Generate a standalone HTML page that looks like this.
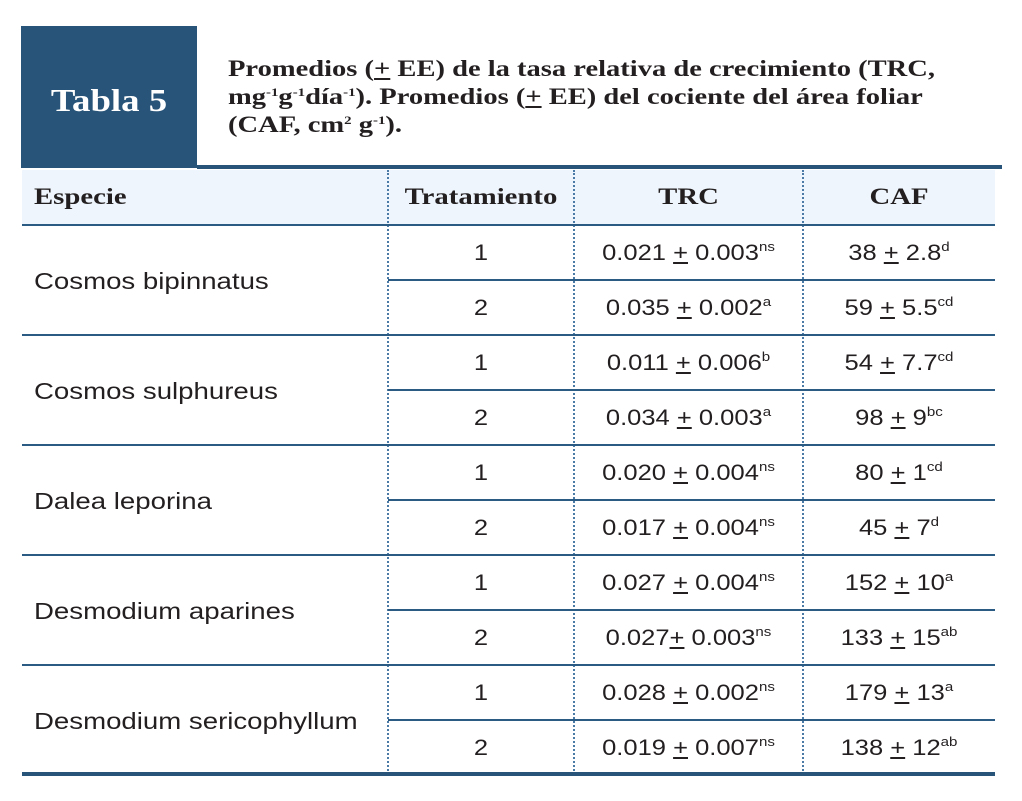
<!DOCTYPE html>
<html><head><meta charset="utf-8"><style>
body{margin:0;width:1022px;height:801px;background:#fff;position:relative;overflow:hidden;font-family:"Liberation Sans",sans-serif;color:#231f20}
.a{position:absolute}
.box{left:21px;top:26px;width:176px;height:142px;background:#285479}
.box span{position:absolute;left:0;width:176px;top:56px;text-align:center;color:#fff;font:bold 32px "Liberation Serif",serif;transform:scaleX(1.15)}
.cap{left:228px;top:55px;font:bold 23px/28px "Liberation Serif",serif;color:#231f20;transform:scaleX(1.24);transform-origin:0 0;white-space:nowrap}
.cap sup{font-size:12px;vertical-align:8px;line-height:0}
.hd{left:22px;top:170px;width:973px;height:55px;background:#eef5fc}
.h{position:absolute;top:184px;font:bold 23px "Liberation Serif",serif;transform:scaleX(1.25)}
.hl{position:absolute;height:2px;background:#2b5a82}
.vl{position:absolute;top:170px;height:604px;border-left:2px dotted #4a7aa5;width:0}
.c{position:absolute;font-size:22px;text-align:center;line-height:26px;transform:scaleX(1.16)}
.c sup{font-size:13px;vertical-align:9px;line-height:0}
.sp{position:absolute;left:34px;font-size:23px;line-height:26px;transform:scaleX(1.2);transform-origin:0 0}
</style></head><body>
<div class="a box"><span>Tabla 5</span></div>
<div class="a cap">Promedios (<u>+</u> EE) de la tasa relativa de crecimiento (TRC,<br>mg<sup>-1</sup>g<sup>-1</sup>día<sup>-1</sup>). Promedios (<u>+</u> EE) del cociente del área foliar<br>(CAF, cm<sup>2</sup> g<sup>-1</sup>).</div>
<div class="a" style="left:197px;top:165px;width:805px;height:4px;background:#285479"></div>
<div class="a hd"></div>
<div class="h" style="left:34px;transform-origin:0 0">Especie</div>
<div class="h" style="left:388px;width:186px;text-align:center">Tratamiento</div>
<div class="h" style="left:574px;width:229px;text-align:center">TRC</div>
<div class="h" style="left:803px;width:192px;text-align:center">CAF</div>
<div class="vl" style="left:387px"></div>
<div class="vl" style="left:573px"></div>
<div class="vl" style="left:802px"></div>
<div class="hl" style="left:22px;width:973px;top:224px"></div>
<div class="hl" style="left:388px;width:607px;top:279px"></div>
<div class="hl" style="left:22px;width:973px;top:334px"></div>
<div class="hl" style="left:388px;width:607px;top:389px"></div>
<div class="hl" style="left:22px;width:973px;top:444px"></div>
<div class="hl" style="left:388px;width:607px;top:499px"></div>
<div class="hl" style="left:22px;width:973px;top:554px"></div>
<div class="hl" style="left:388px;width:607px;top:609px"></div>
<div class="hl" style="left:22px;width:973px;top:664px"></div>
<div class="hl" style="left:388px;width:607px;top:719px"></div>
<div class="a" style="left:22px;width:973px;top:772px;height:4px;background:#285479"></div>

<div class="sp" style="top:268px">Cosmos bipinnatus</div>
<div class="sp" style="top:378px">Cosmos sulphureus</div>
<div class="sp" style="top:488px">Dalea leporina</div>
<div class="sp" style="top:598px">Desmodium aparines</div>
<div class="sp" style="top:708px">Desmodium sericophyllum</div>

<div class="c" style="left:388px;width:186px;top:240px">1</div>
<div class="c" style="left:388px;width:186px;top:295px">2</div>
<div class="c" style="left:388px;width:186px;top:350px">1</div>
<div class="c" style="left:388px;width:186px;top:405px">2</div>
<div class="c" style="left:388px;width:186px;top:460px">1</div>
<div class="c" style="left:388px;width:186px;top:515px">2</div>
<div class="c" style="left:388px;width:186px;top:570px">1</div>
<div class="c" style="left:388px;width:186px;top:625px">2</div>
<div class="c" style="left:388px;width:186px;top:680px">1</div>
<div class="c" style="left:388px;width:186px;top:735px">2</div>

<div class="c" style="left:574px;width:229px;top:240px">0.021 <u>+</u> 0.003<sup>ns</sup></div>
<div class="c" style="left:574px;width:229px;top:295px">0.035 <u>+</u> 0.002<sup>a</sup></div>
<div class="c" style="left:574px;width:229px;top:350px">0.011 <u>+</u> 0.006<sup>b</sup></div>
<div class="c" style="left:574px;width:229px;top:405px">0.034 <u>+</u> 0.003<sup>a</sup></div>
<div class="c" style="left:574px;width:229px;top:460px">0.020 <u>+</u> 0.004<sup>ns</sup></div>
<div class="c" style="left:574px;width:229px;top:515px">0.017 <u>+</u> 0.004<sup>ns</sup></div>
<div class="c" style="left:574px;width:229px;top:570px">0.027 <u>+</u> 0.004<sup>ns</sup></div>
<div class="c" style="left:574px;width:229px;top:625px">0.027<u>+</u> 0.003<sup>ns</sup></div>
<div class="c" style="left:574px;width:229px;top:680px">0.028 <u>+</u> 0.002<sup>ns</sup></div>
<div class="c" style="left:574px;width:229px;top:735px">0.019 <u>+</u> 0.007<sup>ns</sup></div>

<div class="c" style="left:803px;width:192px;top:240px">38 <u>+</u> 2.8<sup>d</sup></div>
<div class="c" style="left:803px;width:192px;top:295px">59 <u>+</u> 5.5<sup>cd</sup></div>
<div class="c" style="left:803px;width:192px;top:350px">54 <u>+</u> 7.7<sup>cd</sup></div>
<div class="c" style="left:803px;width:192px;top:405px">98 <u>+</u> 9<sup>bc</sup></div>
<div class="c" style="left:803px;width:192px;top:460px">80 <u>+</u> 1<sup>cd</sup></div>
<div class="c" style="left:803px;width:192px;top:515px">45 <u>+</u> 7<sup>d</sup></div>
<div class="c" style="left:803px;width:192px;top:570px">152 <u>+</u> 10<sup>a</sup></div>
<div class="c" style="left:803px;width:192px;top:625px">133 <u>+</u> 15<sup>ab</sup></div>
<div class="c" style="left:803px;width:192px;top:680px">179 <u>+</u> 13<sup>a</sup></div>
<div class="c" style="left:803px;width:192px;top:735px">138 <u>+</u> 12<sup>ab</sup></div>
</body></html>
